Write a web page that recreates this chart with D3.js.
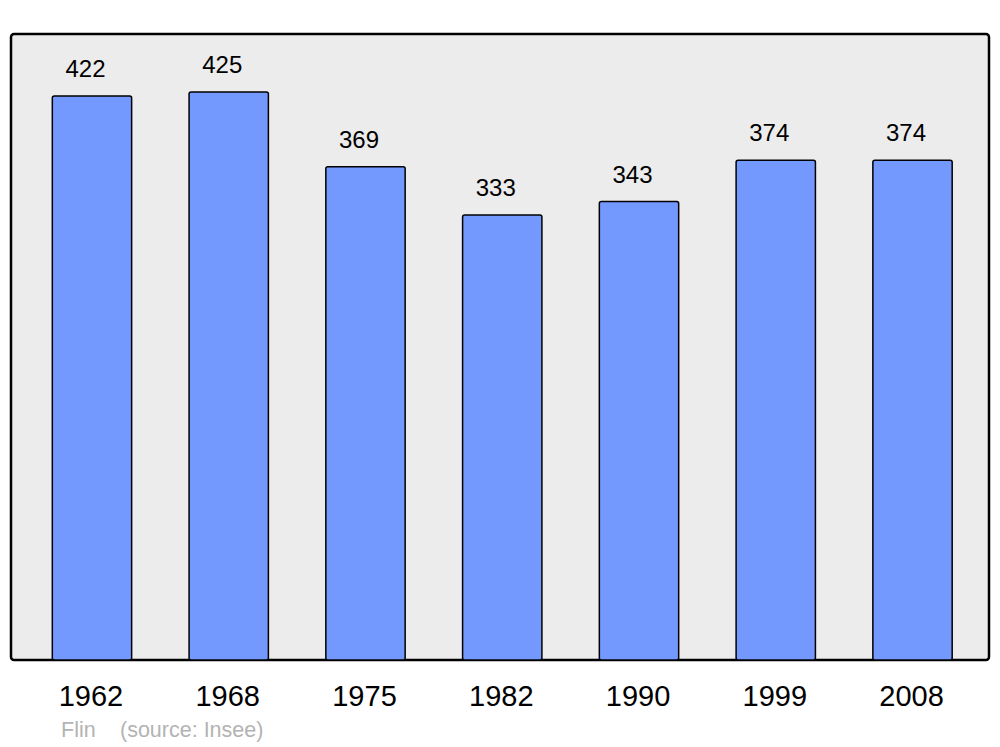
<!DOCTYPE html>
<html><head><meta charset="utf-8">
<script src="https://cdn.jsdelivr.net/npm/d3@7"></script>
<style>body{margin:0;background:#fff}svg{display:block}</style>
</head><body>
<script>
const years = ["1962","1968","1975","1982","1990","1999","2008"];
const population = [422,425,369,333,343,374,374];
const townName = "Flin";
const sourceText = "(source: Insee)";

const W = 1000, H = 747;
const svg = d3.select("body").append("svg").attr("width", W).attr("height", H);
const frame = {x0: 11, x1: 989, y0: 34, y1: 660};

svg.append("rect").attr("x", frame.x0).attr("y", frame.y0)
  .attr("width", frame.x1 - frame.x0).attr("height", frame.y1 - frame.y0)
  .attr("rx", 3).attr("fill", "#ececec").attr("stroke", "#000").attr("stroke-width", 2.5);

const x = d3.scaleBand().domain(years).range([23.6, 980.9]).paddingInner(0.42).paddingOuter(0.21);
const y = d3.scaleLinear().domain([0, 468.4]).range([frame.y1, frame.y0]);

const data = years.map((yr, i) => ({year: yr, value: population[i]}));

svg.selectAll("rect.bar").data(data).enter().append("rect").attr("class","bar")
  .attr("x", d => x(d.year)).attr("y", d => y(d.value))
  .attr("width", x.bandwidth()).attr("height", d => y(0) - y(d.value))
  .attr("rx", 2).attr("fill", "#7399ff").attr("stroke", "#000").attr("stroke-width", 1.5);

svg.selectAll("text.val").data(data).enter().append("text").attr("class","val")
  .attr("x", d => x(d.year) + x.bandwidth()/2 - 6.5).attr("y", d => y(d.value) - 19)
  .attr("text-anchor","middle").attr("font-family","Liberation Sans, Arial, sans-serif")
  .attr("font-size", 24).attr("fill","#000").text(d => d.value);

const axis = d3.axisBottom(x).tickSize(0).tickPadding(0);
const ag = svg.append("g").attr("transform", `translate(-1,${frame.y1})`).call(axis);
ag.select(".domain").remove();
ag.selectAll("text").attr("font-family","Liberation Sans, Arial, sans-serif")
  .attr("font-size", 29).attr("fill","#000").attr("dy", null).attr("y", 46);

svg.append("text").attr("x", 61).attr("y", 737)
  .attr("font-family","Liberation Sans, Arial, sans-serif").attr("font-size", 21.5)
  .attr("fill","#b3b3b3").text(townName);
svg.append("text").attr("x", 120).attr("y", 737)
  .attr("font-family","Liberation Sans, Arial, sans-serif").attr("font-size", 21.5)
  .attr("fill","#b3b3b3").text(sourceText);
</script>
</body></html>
